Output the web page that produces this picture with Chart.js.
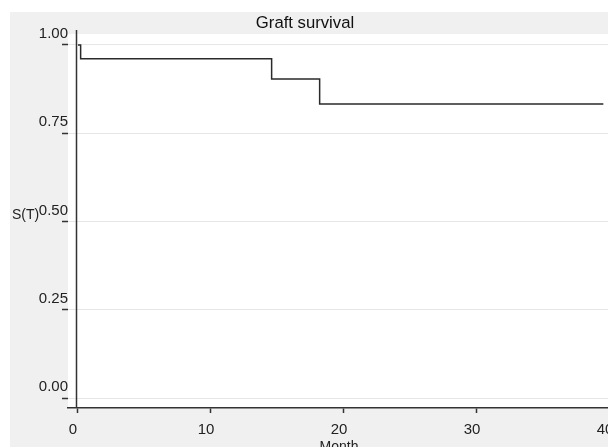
<!DOCTYPE html>
<html>
<head>
<meta charset="utf-8">
<script src="https://cdn.jsdelivr.net/npm/chart.js@4/dist/chart.umd.min.js"></script>
<style>
	body { margin: 0; overflow: hidden; background: #fff; }
	#wrap { width: 630px; height: 460px; }
</style>
</head>
<body>
<div id="wrap"><canvas id="myChart" width="630" height="460"></canvas></div>
<script>
//survival curve (months, S(T))
const months = [0, 0.2, 14.56, 18.17, 39.5];
const survival = [1, 0.961, 0.904, 0.833, 0.833];
//tick values for both axes
const x_ticks = [0, 10, 20, 30, 40];
const y_ticks = [0, 0.25, 0.5, 0.75, 1];

const font_family = "'Liberation Sans', Arial, sans-serif";

//gray panel, white plot area, the y axis line and the S(T) label
const frame_plugin = {
	id: 'frame',
	beforeDraw(chart) {
		const c = chart.ctx;
		const area = chart.chartArea;
		c.save();
		c.fillStyle = '#ffffff';
		c.fillRect(0, 0, chart.width, chart.height);
		c.fillStyle = '#f0f0f0';
		c.fillRect(10, 12, chart.width - 10, chart.height - 12);
		c.fillStyle = '#ffffff';
		c.fillRect(area.left, area.top, area.right - area.left, area.bottom - area.top);
		c.restore();
	},
	afterDraw(chart) {
		const c = chart.ctx;
		const area = chart.chartArea;
		const x = Math.round(chart.scales.x.getPixelForValue(-0.15)) + 0.5;
		c.save();
		c.strokeStyle = '#333333';
		c.lineWidth = 1.5;
		c.beginPath();
		c.moveTo(x, area.top - 4);
		c.lineTo(x, area.bottom);
		c.stroke();
		c.fillStyle = '#222222';
		c.font = '14px ' + font_family;
		c.textAlign = 'left';
		c.textBaseline = 'middle';
		c.fillText('S(T)', 12, 215);
		c.restore();
	}
};

const ctx = document.getElementById('myChart');
const myChart = new Chart(ctx, {
	type: 'line',
	data: {
		datasets: [
			{
				label: 'Graft survival',
				data: months.map((m, i) => ({x: m, y: survival[i]})),
				borderColor: '#2a2a2a',
				borderWidth: 1.5,
				pointRadius: 0,
				stepped: true,
				fill: false
			}
		]
	},
	options: {
		responsive: false,
		animation: false,
		layout: {
			padding: {left: 0, right: 20, top: 0, bottom: 0}
		},
		plugins: {
			legend: {display: false},
			tooltip: {enabled: false},
			title: {
				display: true,
				text: 'Graft survival',
				color: '#111111',
				font: {family: font_family, size: 16.7, weight: 'normal'},
				padding: {top: 13, bottom: 1}
			}
		},
		scales: {
			x: {
				type: 'linear',
				min: -0.75,
				max: 40,
				afterFit(scale) { scale.height = 52; },
				afterBuildTicks(scale) { scale.ticks = x_ticks.map(v => ({value: v})); },
				border: {display: true, color: '#333333', width: 1.5},
				grid: {drawOnChartArea: false, drawTicks: true, tickLength: 5, tickColor: '#333333', tickWidth: 1.5},
				ticks: {
					color: '#222222',
					font: {family: font_family, size: 15},
					padding: 8,
					labelOffset: -5,
					maxRotation: 0
				},
				title: {
					display: true,
					text: 'Month',
					color: '#222222',
					font: {family: font_family, size: 14},
					padding: {top: 0, bottom: 4}
				}
			},
			y: {
				min: -0.028,
				max: 1.031,
				afterFit(scale) { scale.width = 68; },
				afterBuildTicks(scale) { scale.ticks = y_ticks.map(v => ({value: v})); },
				border: {display: false},
				grid: {drawOnChartArea: true, color: '#e6e6e6', drawTicks: true, tickLength: 6, tickColor: '#333333', tickWidth: 1.5},
				ticks: {
					color: '#222222',
					font: {family: font_family, size: 15},
					padding: -6,
					labelOffset: -11,
					callback: v => v.toFixed(2)
				}
			}
		}
	},
	plugins: [frame_plugin]
});
</script>
</body>
</html>
